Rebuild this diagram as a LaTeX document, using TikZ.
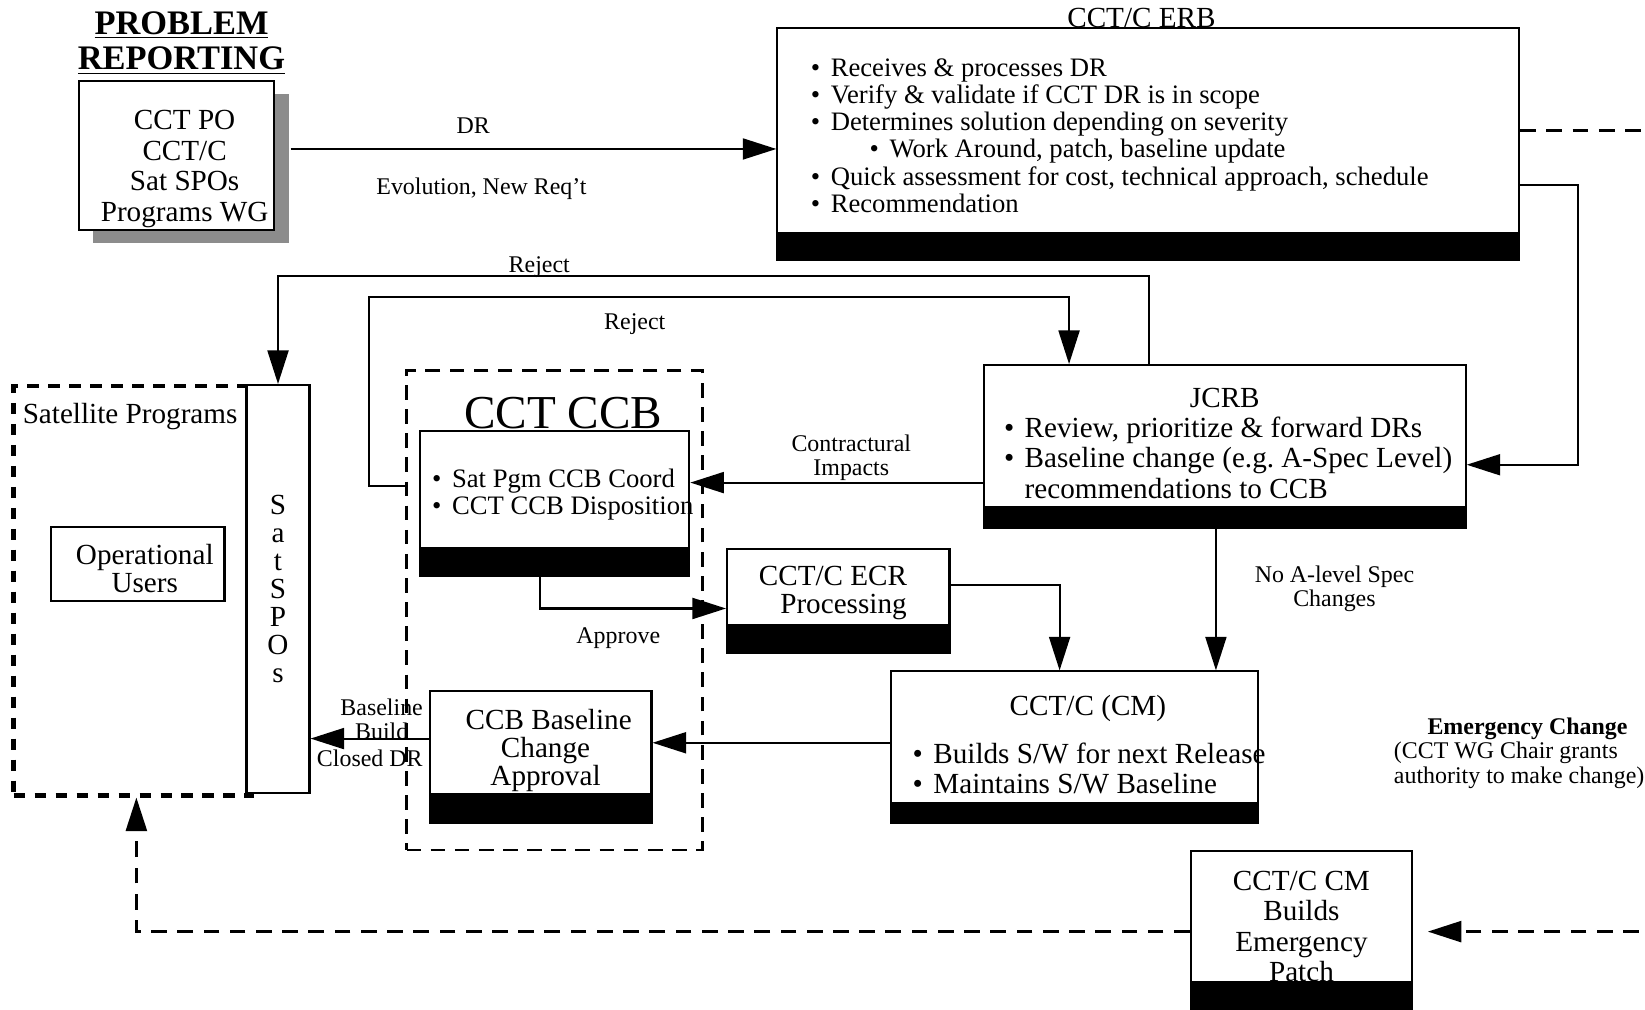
\documentclass[tikz,border=0pt]{standalone}
\usepackage{fontspec}
\setmainfont{Liberation Serif}
\usetikzlibrary{shapes,arrows.meta,positioning,shadows}

\newcommand{\boxfont}{\fontsize{13.9}{14.5}\selectfont}
\newcommand{\tightfont}{\fontsize{13.9}{13.3}\selectfont}
\newcommand{\listfont}{\fontsize{12.7}{13}\selectfont}
\newcommand{\lblfont}{\fontsize{11.4}{11.5}\selectfont}
\newcommand{\itm}{\textbullet\nobreak\hspace{5pt}}
\newcommand{\pad}[1]{\rule{0pt}{#1}}

\begin{document}
\begin{tikzpicture}[%
    >={Triangle[length=16pt,width=10pt]}, % Big solid heads as on the slide
    node distance=0pt and 0pt,  % Boxes are set by their shifts only
    on grid,                    % so every shift is centre to centre
    line width=1pt,
    ]
% -------------------------------------------------
% A few box styles
\tikzset{
  base/.style={draw, inner sep=0pt, align=center, fill=white},
  box/.style={base, font=\boxfont},
  tight/.style={font=\tightfont},
  list/.style={base, font=\listfont, align=flush left},
  % Dashed groups
  sreg/.style={draw, minimum width=113.5pt, minimum height=195pt,
               line width=2.2pt, dash pattern=on 5.5pt off 4.5pt},
  creg/.style={draw, minimum width=141pt, minimum height=228.5pt,
               line width=1.2pt, dash pattern=on 7pt off 4.5pt},
  % Connector line styles
  flow/.style={->},
  emer/.style={->, line width=1.3pt, dash pattern=on 7.5pt off 5pt},
  stub/.style={line width=1.3pt, dash pattern=on 7.5pt off 5pt},
  lbl/.style={font=\lblfont, inner sep=1pt, align=center}
}
\useasboundingbox (0,0) rectangle (784pt,-481pt);
\coordinate (edge) at (784pt,0pt);
% -------------------------------------------------
% Start by placing the nodes

\node [box, minimum width=93pt, minimum height=71pt,
       drop shadow={shadow xshift=7pt, shadow yshift=-6.5pt, fill=black!45, opacity=1}]
       (pr) at (84pt,-74pt)
  {\pad{22.2pt}\hspace*{8pt}CCT PO\\\hspace*{8pt}CCT/C\\
   \hspace*{8pt}Sat SPOs\\\hspace*{8pt}Programs WG};
\node [above = of pr, yshift=53.5pt, xshift=2.5pt, align=center, inner sep=0pt,
       font=\fontsize{16.4}{17}\selectfont\bfseries] (prt)
       {\underline{PROBLEM}\\\underline{REPORTING}};

\node [list, minimum width=353.5pt, minimum height=97.5pt, text width=321.5pt,
       right = of pr, xshift=463.25pt, yshift=11.75pt] (erb)
  {\pad{13.1pt}\itm Receives \& processes DR\\
   \itm Verify \& validate if CCT DR is in scope\\
   \itm Determines solution depending on severity\\
   \hspace*{28pt}\itm Work Around, patch, baseline update\\
   \itm\mbox{Quick assessment for cost, technical approach, schedule}\\
   \itm Recommendation};
\node [anchor=base, font=\boxfont, xshift=-3.25pt] (erbt) at (erb.north) {CCT/C ERB};

\node [list, font=\boxfont, minimum width=229.5pt, minimum height=67.5pt, text width=210.5pt,
       below = of erb, xshift=36.5pt, yshift=-145.5pt] (jcrb)
  {\pad{16.2pt}\makebox[\linewidth]{JCRB}\\
   \itm Review, prioritize \& forward DRs\\
   \itm\mbox{Baseline change (e.g.\ A-Spec Level)}\\
   \phantom{\itm}recommendations to CCB};

\node [list, minimum width=128.5pt, minimum height=55.5pt, text width=116.5pt,
       left = of jcrb, xshift=-319.5pt, yshift=-25.5pt] (ccb)
  {\pad{13.6pt}\itm\mbox{Sat Pgm CCB Coord}\\\itm\mbox{CCT CCB Disposition}};
\node [anchor=base, font=\fontsize{22.5}{24}\selectfont, xshift=4.25pt, yshift=1pt] (ccbt)
       at (ccb.north) {CCT CCB};
\node [creg, below = of ccb, yshift=-57.5pt] (grp) {};

\node [box, tight, minimum width=106pt, minimum height=36.5pt,
       right = of ccb, xshift=135.25pt, yshift=-46.5pt] (ecr)
  {\pad{15.2pt}\hspace*{-5pt}CCT/C ECR\\\hspace*{5pt}Processing};

\node [list, font=\boxfont, minimum width=175pt, minimum height=62.5pt, text width=154pt,
       below = of jcrb, xshift=-71.75pt, yshift=-143.5pt] (cm)
  {\pad{17pt}\makebox[\linewidth]{\hspace*{13pt}CCT/C (CM)}\\[8pt]
   \itm\mbox{Builds S/W for next Release}\\
   \itm Maintains S/W Baseline};

\node [box, tight, minimum width=105.5pt, minimum height=49pt,
       left = of cm, xshift=-254.25pt, yshift=-2.75pt] (ccbb)
  {\pad{17.2pt}\hspace*{7.5pt}CCB Baseline\\\hspace*{4.5pt}Change\\\hspace*{4.5pt}Approval};

\node [sreg, left = of ccb, xshift=-201pt, yshift=-48.25pt] (sat) {};
\node [above = of sat, xshift=-1.25pt, yshift=83pt, font=\boxfont, inner sep=0pt] (satt)
       {Satellite Programs};
\node [box, tight, minimum width=82.5pt, minimum height=35.5pt,
       above = of sat, xshift=2.5pt, yshift=12.75pt] (opu)
  {\pad{14.2pt}\hspace*{6.5pt}Operational\\\hspace*{6.5pt}Users};
\node [box, tight, minimum width=30pt, minimum height=194.5pt,
       left = of ccb, xshift=-131.75pt, yshift=-47.5pt] (spo) {S\\a\\t\\S\\P\\O\\s};

\node [box, minimum width=105.5pt, minimum height=61.5pt,
       below = of cm, xshift=108.25pt, yshift=-85.5pt] (emg)
  {\pad{19pt}CCT/C CM\\Builds\\Emergency\\Patch};
\node [right = of cm, xshift=212pt, yshift=-7.75pt, font=\lblfont, align=left, inner sep=0pt] (emc)
  {\hspace*{16pt}\textbf{Emergency Change}\\(CCT WG Chair grants\\authority to make change)};

% Black bars under the boxes
\foreach \n/\h in {erb/13pt, jcrb/10pt, ccb/13.5pt, ecr/13pt, cm/9.5pt, ccbb/13.5pt, emg/13.5pt}
  \fill (\n.south west) rectangle ([yshift=-\h]\n.south east);

% -------------------------------------------------
% Connectors
\draw[flow] ([xshift=7.5pt,yshift=3pt]pr.east) --
   node[lbl, above=6pt, pos=.376] (dr) {DR}
   node[lbl, below=12.5pt, pos=.393] (evo) {Evolution, New Req't}
   ([yshift=-8.75pt]erb.west);		%Problem Reporting,ERB
\draw[stub] (erb.east) -- (erb.east -| edge);		%ERB,off page
\draw[flow] ([yshift=-25.75pt]erb.east) -- ++(27.5pt,0)
   |- ([yshift=-13.75pt]jcrb.east);		%ERB,JCRB
\draw[flow] ([xshift=-36.25pt]jcrb.north) -- ++(0,42pt)
   -| node[lbl, pos=.35, above=-2.5pt] (rej1) {Reject} (spo.north);		%JCRB,Sat SPOs
\draw[flow] ([yshift=59.25pt]grp.west) -- ++(-17.5pt,0) -- ++(0,90pt)
   -| node[lbl, pos=.19, below=6.5pt] (rej2) {Reject} ([xshift=-74.25pt]jcrb.north);		%CCT CCB,JCRB
\draw[flow] ([yshift=-22.25pt]jcrb.west) --
   node[lbl, above=-0.5pt, pos=.45] (ctr) {Contractural\\Impacts}
   ([yshift=3.25pt]ccb.east);		%JCRB,CCB
\draw[flow] ([xshift=-6.75pt]ccb.south) |-
   node[lbl, pos=.71, below=7.5pt] (apv) {Approve}
   ([yshift=-10.25pt]ecr.west);		%CCB,ECR
\draw[flow] ([yshift=0.75pt]ecr.east) -| ([xshift=-7pt]cm.north);		%ECR,CM
\draw[flow] ([xshift=-4.25pt]jcrb.south) --
   node[lbl, right=17pt] (noa) {No A-level Spec\\Changes}
   ([xshift=67.5pt]cm.north);		%JCRB,CM
\draw[flow] ([yshift=-2.75pt]cm.west) -- (ccbb.east);		%CM,CCB Baseline
\draw[flow] ([yshift=2pt]ccbb.west) --
   node[lbl, pos=.4, above=-2pt] (bb) {Baseline\\Build}
   node[lbl, pos=.5, below=4pt] (cdr) {Closed DR}
   ([yshift=-71.25pt]spo.east);		%CCB Baseline,Sat SPOs
\draw[emer] ([xshift=120pt,yshift=-7.25pt]emg.east) --
   ([xshift=7pt,yshift=-7.25pt]emg.east);		%off page,Emergency
\draw[emer] ([yshift=-7.25pt]emg.west) -| ([xshift=1.75pt]sat.south);		%Emergency,Satellite Programs

% -------------------------------------------------
\end{tikzpicture}
\end{document}
